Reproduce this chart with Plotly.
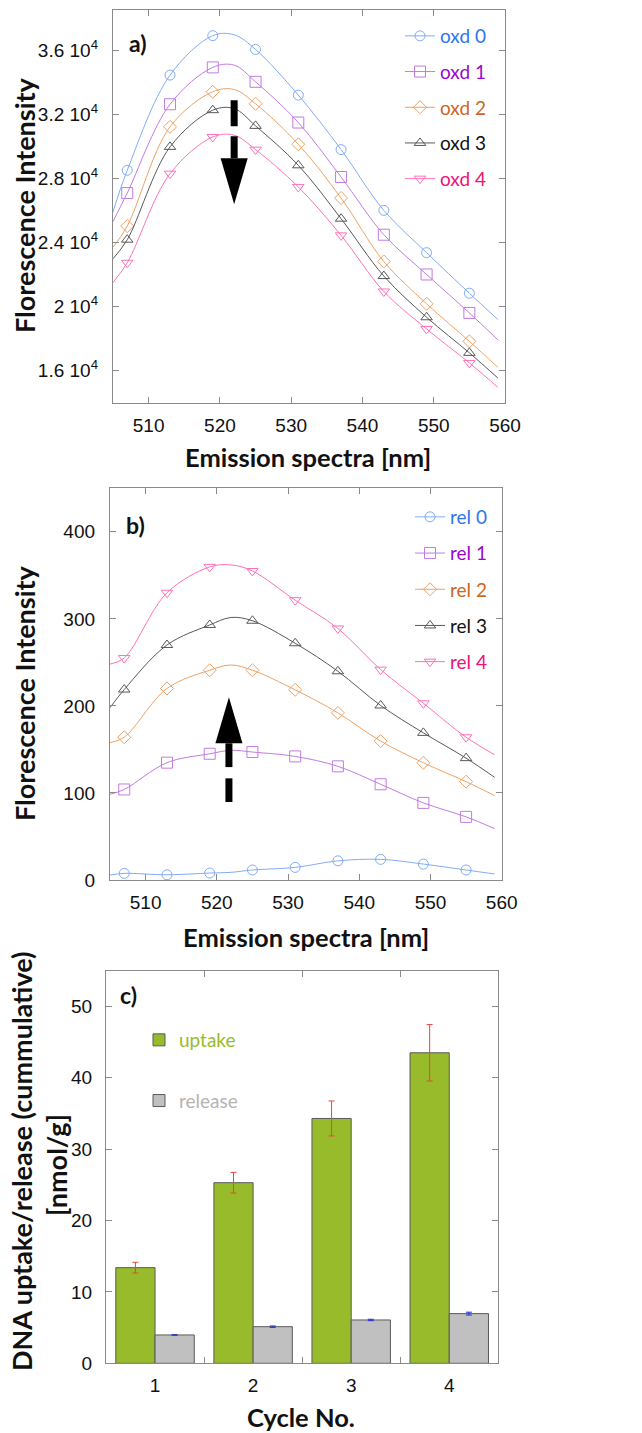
import plotly.graph_objects as go

W, H = 642, 1433

# ---------------- data ----------------
wavelength = [505, 507, 513, 519, 522, 525, 531, 537, 543, 549, 555, 559]
marked = [False, True, True, True, False, True, True, True, True, True, True, False]

oxd_names = ["oxd 0", "oxd 1", "oxd 2", "oxd 3", "oxd 4"]
oxd0 = [25900, 28500, 34440, 36900, 36950, 36040, 33190, 29790, 26000, 23360, 20830, 19190]
oxd1 = [25300, 27080, 32620, 34920, 35060, 34020, 31480, 28080, 24480, 22000, 19600, 17920]
oxd2 = [23700, 25020, 31210, 33400, 33540, 32650, 30120, 26770, 22810, 20170, 17830, 16210]
oxd3 = [22980, 24170, 29960, 32250, 32350, 31270, 28810, 25480, 21900, 19330, 17110, 15540]
oxd4 = [21500, 22730, 28290, 30580, 30690, 29790, 27460, 24440, 20940, 18600, 16480, 14960]

rel_names = ["rel 0", "rel 1", "rel 2", "rel 3", "rel 4"]
rel0 = [5.7, 7.6, 6.0, 8.0, 8.8, 11.5, 14.5, 22.0, 23.7, 18.3, 11.5, 6.9]
rel1 = [98.5, 104, 134.8, 145, 149, 147, 142, 130.6, 110, 88.6, 72.5, 59]
rel2 = [157.7, 164, 220, 241, 247, 241, 218.5, 192, 159.6, 134.7, 113, 97]
rel3 = [198, 218.8, 270, 293, 301.6, 297.8, 272, 239.8, 200.5, 169, 140, 118]
rel4 = [248, 255, 330, 359.7, 362, 355, 321.5, 289, 241.7, 203, 164, 144]

cycles = [1, 2, 3, 4]
uptake = [13.4, 25.3, 34.3, 43.5]
uptake_err = [0.75, 1.45, 2.45, 3.95]
release = [3.97, 5.13, 6.07, 6.96]
release_err = [0.03, 0.1, 0.1, 0.2]

# ---------------- styles ----------------
line_colors = ["#82abf5", "#c27be2", "#eda266", "#585858", "#ff72b6"]
text_colors = ["#2f74f0", "#9a06d0", "#cc6622", "#111111", "#ee1177"]
symbols = ["circle-open", "square-open", "diamond-open", "triangle-up-open", "triangle-down-open"]
msizes = [10, 11, 10, 10, 10]

FONT_TICK = "Liberation Sans, Arial, sans-serif"
FONT_TXT = "Lato, Open Sans, sans-serif"
AX_COLOR = "#8a8a8a"


def fx(px):
    return px / W


def fy(py):
    return 1 - py / H


fig = go.Figure()


def add_spectra(series, names, xa, ya, legend):
    for i, (ys, nm) in enumerate(zip(series, names)):
        c = line_colors[i]
        fig.add_trace(go.Scatter(
            x=wavelength, y=ys, mode="lines", line=dict(color=c, width=1, shape="spline"),
            xaxis=xa, yaxis=ya, showlegend=False, hoverinfo="skip"))
        mx = [w for w, m in zip(wavelength, marked) if m]
        my = [v for v, m in zip(ys, marked) if m]
        fig.add_trace(go.Scatter(
            x=mx, y=my, mode="markers",
            marker=dict(symbol=symbols[i], size=msizes[i], color=c, line=dict(width=1, color=c)),
            xaxis=xa, yaxis=ya, showlegend=False))
        # legend entry
        fig.add_trace(go.Scatter(
            x=[None], y=[None], mode="lines+markers",
            line=dict(color=c, width=1),
            marker=dict(symbol=symbols[i], size=msizes[i], color=c, line=dict(width=1, color=c)),
            name='<span style="color:%s">%s</span>' % (text_colors[i], nm),
            xaxis=xa, yaxis=ya, legend=legend, legendgroup=legend + str(i), showlegend=True))


add_spectra([oxd0, oxd1, oxd2, oxd3, oxd4], oxd_names, "x", "y", "legend")
add_spectra([rel0, rel1, rel2, rel3, rel4], rel_names, "x2", "y2", "legend2")

fig.add_trace(go.Bar(
    x=cycles, y=uptake, name='<span style="color:#98bb2b">uptake</span>',
    marker=dict(color="#98bb2b", line=dict(color="#5a5a5a", width=1)),
    error_y=dict(type="data", array=uptake_err, color="#e8453c", thickness=1, width=3),
    xaxis="x3", yaxis="y3", legend="legend3", legendgroup="c1"))
fig.add_trace(go.Bar(
    x=cycles, y=release, name='<span style="color:#b4b4b4">release</span>',
    marker=dict(color="#c0c0c0", line=dict(color="#5a5a5a", width=1)),
    error_y=dict(type="data", array=release_err, color="#2233cc", thickness=1, width=3),
    xaxis="x3", yaxis="y3", legend="legend3", legendgroup="c2"))

axis_common = dict(
    showline=True, linecolor=AX_COLOR, linewidth=1.3, mirror="ticks",
    ticks="inside", ticklen=6, tickcolor=AX_COLOR, tickwidth=1.3,
    showgrid=False, zeroline=False, automargin=False,
    tickfont=dict(family=FONT_TICK, size=19, color="#111"),
)

exp4 = ["1.6 10<sup>4</sup>", "2 10<sup>4</sup>", "2.4 10<sup>4</sup>",
        "2.8 10<sup>4</sup>", "3.2 10<sup>4</sup>", "3.6 10<sup>4</sup>"]

fig.update_layout(
    width=W, height=H, margin=dict(l=0, r=0, t=0, b=0),
    paper_bgcolor="white", plot_bgcolor="white",
    barmode="group", bargap=0.2, bargroupgap=0,
    xaxis=dict(domain=[fx(113), fx(505)], range=[505, 560], tickvals=[510, 520, 530, 540, 550, 560],
               anchor="y", ticklabelstandoff=5, **axis_common),
    yaxis=dict(domain=[fy(402.7), fy(10)], range=[14000, 38500],
               tickvals=[16000, 20000, 24000, 28000, 32000, 36000], ticktext=exp4,
               anchor="x", ticklabelstandoff=10, **axis_common),
    xaxis2=dict(domain=[fx(110), fx(501.7)], range=[505, 560], tickvals=[510, 520, 530, 540, 550, 560],
                anchor="y2", ticklabelstandoff=5, **axis_common),
    yaxis2=dict(domain=[fy(880), fy(488.3)], range=[0, 450], tickvals=[0, 100, 200, 300, 400],
                anchor="x2", ticklabelstandoff=10, **axis_common),
    xaxis3=dict(domain=[fx(106), fx(498.3)], range=[0.5, 4.5], anchor="y3", ticklabelstandoff=5,
                **{**axis_common, "ticks": ""},
                tickvals=cycles,
                minor=dict(tickvals=[1.5, 2.5, 3.5], ticks="inside", ticklen=6, tickcolor=AX_COLOR, tickwidth=1.3)),
    yaxis3=dict(domain=[fy(1363.3), fy(970.7)], range=[0, 55], tickvals=[0, 10, 20, 30, 40, 50],
                anchor="x3", ticklabelstandoff=9, **axis_common),
    legend=dict(x=fx(400), y=fy(17), xanchor="left", yanchor="top", bgcolor="rgba(0,0,0,0)",
                font=dict(family=FONT_TXT, size=19), traceorder="grouped", tracegroupgap=8),
    legend2=dict(x=fx(410), y=fy(498), xanchor="left", yanchor="top", bgcolor="rgba(0,0,0,0)",
                 font=dict(family=FONT_TXT, size=19), traceorder="grouped", tracegroupgap=8.5),
    legend3=dict(x=fx(139), y=fy(1021), xanchor="left", yanchor="top", bgcolor="rgba(0,0,0,0)",
                 font=dict(family=FONT_TXT, size=19), traceorder="grouped", tracegroupgap=33),
)

xt_font = dict(family=FONT_TXT, size=25.5, color="#111")
yt_font = dict(family=FONT_TXT, size=27, color="#111")
dna_font = dict(family=FONT_TXT, size=27, color="#111")
annots = [
    dict(text="<b>Florescence Intensity</b>", x=fx(24), y=fy(205), textangle=-90, font=yt_font),
    dict(text="<b>Emission spectra [nm]</b>", x=fx(308), y=fy(457), font=xt_font),
    dict(text="<b>Florescence Intensity</b>", x=fx(24), y=fy(693), textangle=-90, font=yt_font),
    dict(text="<b>Emission spectra [nm]</b>", x=fx(306), y=fy(937), font=xt_font),
    dict(text="<b>DNA uptake/release (cummulative)</b>", x=fx(21), y=fy(1161), textangle=-90, font=dna_font),
    dict(text="<b>[nmol/g]</b>", x=fx(56), y=fy(1165), textangle=-90, font=dna_font),
    dict(text="<b>Cycle No.</b>", x=fx(301), y=fy(1417), font=xt_font),
]
for a in annots:
    fig.add_annotation(xref="paper", yref="paper", showarrow=False,
                       xanchor="center", yanchor="middle", **a)

for txt, px, py in [("a)", 138, 43), ("b)", 135, 525), ("c)", 128, 995)]:
    fig.add_annotation(text="<b>%s</b>" % txt, xref="paper", yref="paper", x=fx(px), y=fy(py),
                       showarrow=False, font=dict(family=FONT_TXT, size=23, color="#111"),
                       xanchor="center", yanchor="middle")

# dashed arrows
ARROW_A = dict(x=522, dashes=[(32875, 31250), (30625, 29250)], base=29250, tip=26375, half=1.9)
ARROW_B = dict(x=521.7, dashes=[(157, 129.7), (116.8, 89.6)], base=157, tip=210, half=1.9)
for arr, xr, yr in [(ARROW_A, "x", "y"), (ARROW_B, "x2", "y2")]:
    for y0, y1 in arr["dashes"]:
        fig.add_shape(type="line", xref=xr, yref=yr, x0=arr["x"], x1=arr["x"], y0=y0, y1=y1,
                      line=dict(color="black", width=7))
    xa, h = arr["x"], arr["half"]
    fig.add_shape(type="path", xref=xr, yref=yr,
                  path="M %f,%f L %f,%f L %f,%f Z" % (xa - h, arr["base"], xa + h, arr["base"], xa, arr["tip"]),
                  fillcolor="black", line=dict(color="black", width=0))

fig.write_html("out.html")
